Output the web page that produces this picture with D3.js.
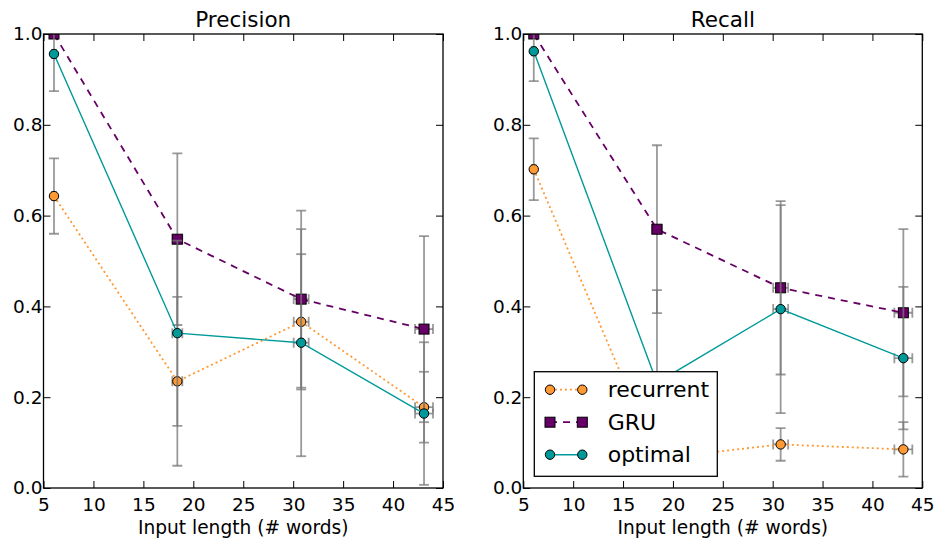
<!DOCTYPE html>
<html>
<head>
<meta charset="utf-8">
<script src="https://cdn.jsdelivr.net/npm/d3@7"></script>
<style>
  body { margin: 0; background: #fff; }
  svg { display: block; font-family: "DejaVu Sans", sans-serif; }
</style>
</head>
<body>
<svg id="chart" width="940" height="546"></svg>
<script>
"use strict";

// mean input length of each bin, and its spread
const lengths = [6.05, 18.4, 30.8, 43.1];
const lengthErr = [0.2, 0.5, 0.75, 0.9];

const seriesNames = ["recurrent", "GRU", "optimal"];
const xTicks = [5, 10, 15, 20, 25, 30, 35, 40, 45];
const yTicks = [0.0, 0.2, 0.4, 0.6, 0.8, 1.0];

// Precision
const precRecurrent = [0.643, 0.235, 0.366, 0.178];
const precRecurrentErr = [0.083, 0.186, 0.149, 0.078];
const precGRU = [1.0, 0.548, 0.416, 0.350];
const precGRUErr = [0, 0.189, 0.195, 0.205];
const precOptimal = [0.956, 0.341, 0.320, 0.164];
const precOptimalErr = [0.082, 0.204, 0.250, 0.157];

// Recall
const recRecurrent = [0.702, 0.065, 0.096, 0.085];
const recRecurrentErr = [0.068, 0.035, 0.036, 0.06];
const recGRU = [1.0, 0.570, 0.441, 0.386];
const recGRUErr = [0, 0.185, 0.191, 0.184];
const recOptimal = [0.962, 0.232, 0.394, 0.286];
const recOptimalErr = [0.066, 0.204, 0.229, 0.157];

const styles = {
  recurrent: { color: "#ff9933", dash: "2,3", width: 1.8, marker: "circle" },
  GRU: { color: "#660066", dash: "7,6", width: 1.8, marker: "square" },
  optimal: { color: "#009999", dash: null, width: 1.4, marker: "circle" }
};

const svg = d3.select("#chart");
const top_ = 34, bottom = 488;

function DrawMarker(g, kind, x, y, color) {
  if (kind == "square") {
    g.append("rect").attr("x", x - 5).attr("y", y - 5).attr("width", 10).attr("height", 10)
      .attr("fill", color).attr("stroke", "#000").attr("stroke-width", 1);
  } else {
    g.append("circle").attr("cx", x).attr("cy", y).attr("r", 4.7)
      .attr("fill", color).attr("stroke", "#000").attr("stroke-width", 1);
  }
}

function DrawPanel(id, left, right, title, series) {
  const x = d3.scaleLinear().domain([5, 45]).range([left, right]);
  const y = d3.scaleLinear().domain([0, 1]).range([bottom, top_]);
  const g = svg.append("g");

  svg.append("defs").append("clipPath").attr("id", "clip-" + id)
    .append("rect").attr("x", left).attr("y", top_).attr("width", right - left).attr("height", bottom - top_);

  const plot = g.append("g").attr("clip-path", "url(#clip-" + id + ")");

  // series in legend order, each: error bars, then line and markers
  series.forEach(function (s) {
    const st = styles[s.name];
    const bars = plot.append("g").attr("stroke", "#787878").attr("stroke-opacity", 0.75).attr("stroke-width", 1.8);

    s.values.forEach(function (v, i) {
      const px = x(lengths[i]), e = s.err[i];
      if (e > 0) {
        bars.append("line").attr("x1", px).attr("x2", px).attr("y1", y(v - e)).attr("y2", y(v + e));
        [v - e, v + e].forEach(function (c) {
          bars.append("line").attr("x1", px - 5).attr("x2", px + 5).attr("y1", y(c)).attr("y2", y(c));
        });
      }
      const xe = lengthErr[i];
      bars.append("line").attr("x1", x(lengths[i] - xe)).attr("x2", x(lengths[i] + xe)).attr("y1", y(v)).attr("y2", y(v));
      [lengths[i] - xe, lengths[i] + xe].forEach(function (c) {
        bars.append("line").attr("x1", x(c)).attr("x2", x(c)).attr("y1", y(v) - 5).attr("y2", y(v) + 5);
      });
    });

    const line = d3.line().x((d, i) => x(lengths[i])).y(d => y(d));
    plot.append("path").datum(s.values).attr("d", line).attr("fill", "none")
      .attr("stroke", st.color).attr("stroke-width", st.width)
      .attr("stroke-dasharray", st.dash);

    s.values.forEach(function (v, i) { DrawMarker(plot, st.marker, x(lengths[i]), y(v), st.color); });
  });

  // ticks point inwards on all four sides
  const tl = 7;
  g.append("g").attr("transform", "translate(0," + bottom + ")")
    .call(d3.axisBottom(x).tickValues(xTicks).tickSizeInner(-tl).tickSizeOuter(0).tickPadding(10).tickFormat(d3.format("d")));
  g.append("g").attr("transform", "translate(0," + top_ + ")")
    .call(d3.axisTop(x).tickValues(xTicks).tickSizeInner(-tl).tickSizeOuter(0).tickFormat(""));
  g.append("g").attr("transform", "translate(" + left + ",0)")
    .call(d3.axisLeft(y).tickValues(yTicks).tickSizeInner(-tl).tickSizeOuter(0).tickPadding(1).tickFormat(d3.format(".1f")));
  g.append("g").attr("transform", "translate(" + right + ",0)")
    .call(d3.axisRight(y).tickValues(yTicks).tickSizeInner(-tl).tickSizeOuter(0).tickFormat(""));

  g.selectAll(".domain").remove();
  g.selectAll(".tick line").attr("stroke", "#000").attr("stroke-width", 1);
  g.selectAll(".tick text").attr("font-family", "DejaVu Sans").attr("font-size", 18.5).attr("fill", "#000");

  g.append("rect").attr("x", left).attr("y", top_).attr("width", right - left).attr("height", bottom - top_)
    .attr("fill", "none").attr("stroke", "#000").attr("stroke-width", 1.3);

  g.append("text").attr("x", (left + right) / 2).attr("y", 27).attr("text-anchor", "middle")
    .attr("font-size", 21.5).text(title);
  g.append("text").attr("x", (left + right) / 2).attr("y", 534).attr("text-anchor", "middle")
    .attr("font-size", 18.6).text("Input length (# words)");

  return g;
}

DrawPanel("p", 43.5, 443, "Precision", [
  { name: "recurrent", values: precRecurrent, err: precRecurrentErr },
  { name: "GRU", values: precGRU, err: precGRUErr },
  { name: "optimal", values: precOptimal, err: precOptimalErr }
]);

const recallPanel = DrawPanel("r", 523.3, 922.3, "Recall", [
  { name: "recurrent", values: recRecurrent, err: recRecurrentErr },
  { name: "GRU", values: recGRU, err: recGRUErr },
  { name: "optimal", values: recOptimal, err: recOptimalErr }
]);

// legend, lower left of the recall panel
const lg = recallPanel.append("g");
lg.append("rect").attr("x", 534.3).attr("y", 371.7).attr("width", 183).attr("height", 104.6)
  .attr("fill", "#fff").attr("stroke", "#000").attr("stroke-width", 1.3);
seriesNames.forEach(function (name, i) {
  const st = styles[name];
  const cy = 389.7 + i * 32.5;
  lg.append("line").attr("x1", 550).attr("x2", 582.3).attr("y1", cy).attr("y2", cy)
    .attr("stroke", st.color).attr("stroke-width", st.width).attr("stroke-dasharray", st.dash);
  DrawMarker(lg, st.marker, 550, cy, st.color);
  DrawMarker(lg, st.marker, 582.3, cy, st.color);
  lg.append("text").attr("x", 607.7).attr("y", cy + 7.5).attr("font-size", 22).text(name);
});
</script>
</body>
</html>
